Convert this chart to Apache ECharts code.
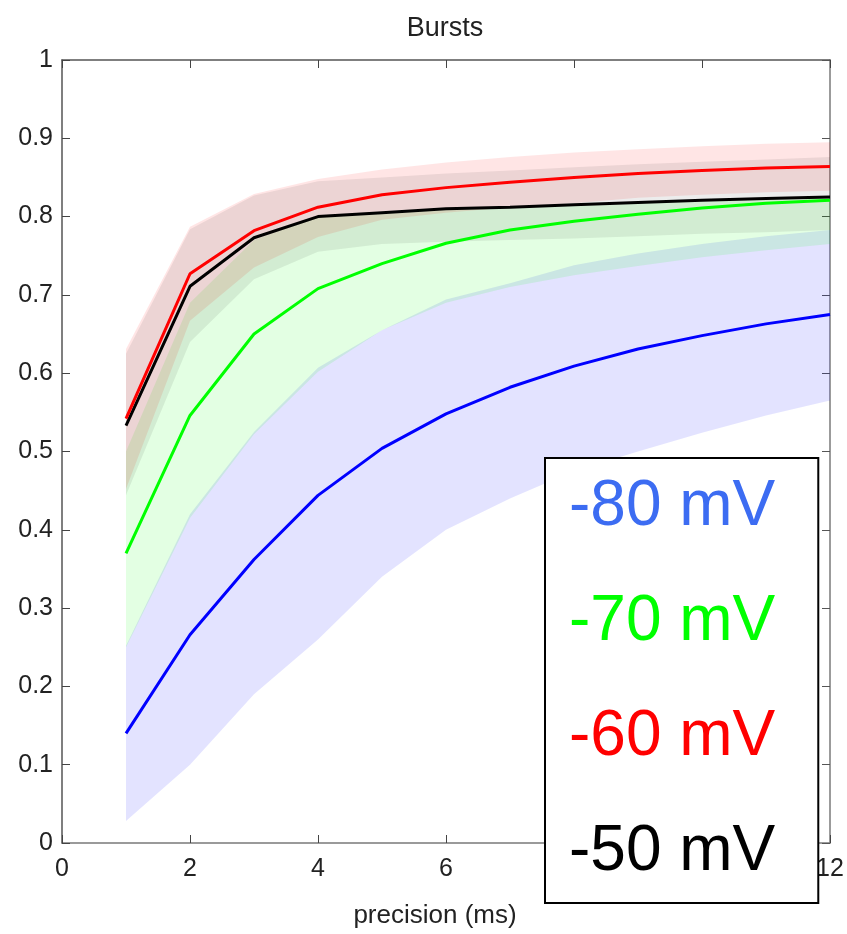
<!DOCTYPE html>
<html>
<head>
<meta charset="utf-8">
<title>Bursts</title>
<script src="https://cdn.jsdelivr.net/npm/echarts@6/dist/echarts.min.js"></script>
<style>
  html, body { margin: 0; padding: 0; background: #ffffff; }
  #chart { width: 847px; height: 934px; }
</style>
</head>
<body>
<div id="chart"></div>
<script>
// Precision axis (ms)
const precision = [1, 2, 3, 4, 5, 6, 7, 8, 9, 10, 11, 12];

// Holding potential labels
const labels = ['-80 mV', '-70 mV', '-60 mV', '-50 mV'];

// -80 mV: mean and shaded spread
const meanM80 = [0.140, 0.266, 0.362, 0.444, 0.504, 0.548, 0.582, 0.609, 0.631, 0.648, 0.663, 0.675];
const lowM80  = [0.028, 0.100, 0.190, 0.260, 0.340, 0.400, 0.440, 0.475, 0.500, 0.524, 0.546, 0.565];
const highM80 = [0.252, 0.420, 0.525, 0.607, 0.655, 0.694, 0.715, 0.738, 0.753, 0.765, 0.775, 0.783];

// -70 mV
const meanM70 = [0.370, 0.546, 0.650, 0.708, 0.740, 0.766, 0.783, 0.794, 0.803, 0.811, 0.817, 0.821];
const lowM70  = [0.250, 0.415, 0.522, 0.602, 0.655, 0.690, 0.710, 0.725, 0.737, 0.748, 0.757, 0.765];
const highM70 = [0.500, 0.690, 0.770, 0.800, 0.805, 0.810, 0.812, 0.815, 0.818, 0.821, 0.823, 0.826];

// -60 mV
const meanM60 = [0.542, 0.727, 0.782, 0.812, 0.828, 0.837, 0.844, 0.850, 0.855, 0.859, 0.862, 0.864];
const lowM60  = [0.452, 0.667, 0.735, 0.774, 0.796, 0.805, 0.812, 0.817, 0.824, 0.828, 0.831, 0.833];
const highM60 = [0.631, 0.787, 0.829, 0.848, 0.860, 0.869, 0.876, 0.882, 0.886, 0.890, 0.893, 0.895];

// -50 mV
const meanM50 = [0.533, 0.711, 0.773, 0.800, 0.805, 0.810, 0.812, 0.815, 0.818, 0.821, 0.823, 0.825];
const lowM50  = [0.444, 0.640, 0.720, 0.755, 0.765, 0.768, 0.770, 0.772, 0.775, 0.778, 0.780, 0.783];
const highM50 = [0.625, 0.784, 0.827, 0.845, 0.850, 0.855, 0.859, 0.863, 0.867, 0.870, 0.873, 0.876];

const yTicks = [0, 0.1, 0.2, 0.3, 0.4, 0.5, 0.6, 0.7, 0.8, 0.9, 1];
const xTicks = [0, 2, 4, 6, 8, 10, 12];

const FONT = '"Liberation Sans", Arial, sans-serif';

// Shaded spread drawn as one polygon per series through the axis scales
function band(lo, hi, fill) {
  return {
    type: 'custom',
    silent: true,
    z: 1,
    clip: true,
    data: precision.map((x, i) => [x, lo[i], hi[i]]),
    encode: { x: 0, y: [1, 2] },
    renderItem: function (params, api) {
      if (params.dataIndex !== 0) return null;
      const pts = [];
      for (let i = 0; i < precision.length; i++) pts.push(api.coord([precision[i], hi[i]]));
      for (let i = precision.length - 1; i >= 0; i--) pts.push(api.coord([precision[i], lo[i]]));
      return { type: 'polygon', shape: { points: pts }, style: { fill: fill } };
    }
  };
}

function meanLine(name, values, color, z) {
  return {
    type: 'line',
    name: name,
    z: z,
    data: precision.map((x, i) => [x, values[i]]),
    showSymbol: false,
    symbol: 'none',
    lineStyle: { color: color, width: 3 },
    itemStyle: { color: color },
    silent: true
  };
}

const axisGray = '#7a7a7a';

const chart = echarts.init(document.getElementById('chart'), null, { renderer: 'canvas' });
chart.setOption({
  animation: false,
  backgroundColor: '#ffffff',
  title: {
    text: 'Bursts',
    left: 440,
    top: 10,
    textAlign: 'center',
    textStyle: { fontFamily: FONT, fontSize: 27, fontWeight: 'normal', color: '#222' }
  },
  grid: { left: 62, right: 17, top: 60, bottom: 84, containLabel: false },
  xAxis: [
    {
      type: 'value', min: 0, max: 12, interval: 2,
      name: 'precision (ms)', nameLocation: 'middle', nameGap: 60,
      nameTextStyle: { fontFamily: FONT, fontSize: 26, color: '#222', padding: [0, 22, 0, 0] },
      axisLine: { show: true, onZero: false, lineStyle: { color: axisGray, width: 1.5 } },
      axisTick: { show: true, inside: true, length: 8, lineStyle: { color: '#444' } },
      axisLabel: { fontFamily: FONT, fontSize: 25, color: '#222', margin: 14,
                   formatter: v => xTicks.includes(v) ? String(v) : '' },
      splitLine: { show: false }
    },
    {
      type: 'value', position: 'top', min: 0, max: 12, interval: 2,
      axisLine: { show: true, onZero: false, lineStyle: { color: '#555', width: 1.5 } },
      axisTick: { show: true, inside: true, length: 8, lineStyle: { color: '#444' } },
      axisLabel: { show: false },
      splitLine: { show: false }
    }
  ],
  yAxis: [
    {
      type: 'value', min: 0, max: 1, interval: 0.1,
      axisLine: { show: true, onZero: false, lineStyle: { color: '#555', width: 1.5 } },
      axisTick: { show: true, inside: true, length: 8, lineStyle: { color: '#444' } },
      axisLabel: { fontFamily: FONT, fontSize: 25, color: '#222', margin: 9,
                   formatter: v => String(Math.round(v * 10) / 10) },
      splitLine: { show: false }
    },
    {
      type: 'value', position: 'right', min: 0, max: 1, interval: 0.1,
      axisLine: { show: true, onZero: false, lineStyle: { color: axisGray, width: 1.5 } },
      axisTick: { show: true, inside: true, length: 8, lineStyle: { color: '#555' } },
      axisLabel: { show: false },
      splitLine: { show: false }
    }
  ],
  legend: {
    orient: 'vertical',
    left: 545,
    top: 458,
    selectedMode: false,
    icon: 'none',
    itemWidth: 0,
    itemHeight: 64,
    itemGap: 51,
    padding: [17, 43, 19, 19],
    backgroundColor: '#ffffff',
    borderColor: '#000000',
    borderWidth: 2,
    borderRadius: 0,
    z: 10,
    textStyle: { fontFamily: FONT, fontSize: 64, lineHeight: 64 },
    data: [
      { name: labels[0], textStyle: { color: '#3c6cf2' } },
      { name: labels[1], textStyle: { color: '#00ff00' } },
      { name: labels[2], textStyle: { color: '#ff0000' } },
      { name: labels[3], textStyle: { color: '#000000' } }
    ]
  },
  series: [
    band(lowM80, highM80, 'rgba(0, 0, 255, 0.11)'),
    band(lowM70, highM70, 'rgba(0, 255, 0, 0.11)'),
    band(lowM60, highM60, 'rgba(255, 0, 0, 0.10)'),
    band(lowM50, highM50, 'rgba(0, 0, 0, 0.075)'),
    meanLine(labels[0], meanM80, '#0000ff', 3),
    meanLine(labels[1], meanM70, '#00ff00', 3),
    meanLine(labels[3], meanM50, '#000000', 3),
    meanLine(labels[2], meanM60, '#ff0000', 4)
  ]
});
</script>
</body>
</html>
